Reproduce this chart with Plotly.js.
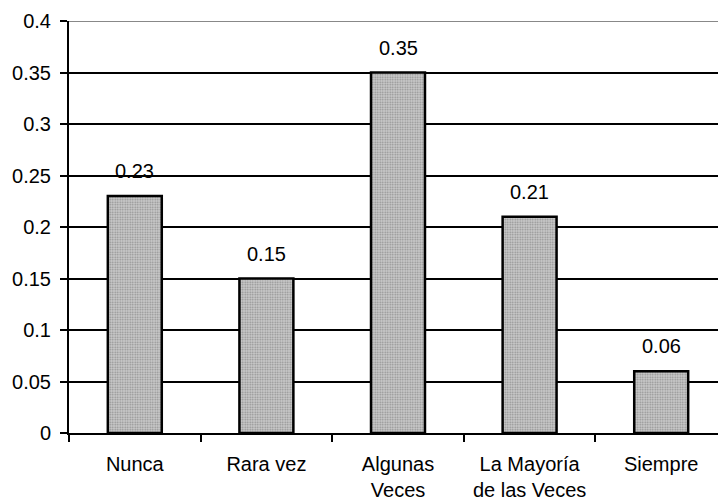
<!DOCTYPE html>
<html>
<head>
<meta charset="utf-8">
<script src="https://cdn.plot.ly/plotly-3.0.1.min.js"></script>
<style>
html,body{margin:0;padding:0;overflow:hidden;background:#fff;}
#chart{width:727px;height:500px;}
</style>
</head>
<body>
<div id="chart"></div>
<script>
const categories = ["Nunca", "Rara vez", "Algunas<br>Veces", "La Mayoría<br>de las Veces", "Siempre"];
const values = [0.23, 0.15, 0.35, 0.21, 0.06];
const valueLabels = ["0.23", "0.15", "0.35", "0.21", "0.06"];
const yTickVals = [0, 0.05, 0.1, 0.15, 0.2, 0.25, 0.3, 0.35, 0.4];
const yTickText = ["0", "0.05", "0.1", "0.15", "0.2", "0.25", "0.3", "0.35", "0.4"];

const font = {family: "Liberation Sans, Arial, sans-serif", size: 20, color: "#000"};

const trace = {
  type: "bar",
  x: categories,
  y: values,
  width: 0.41,
  marker: {
    color: "#b4b4b4",
    line: {color: "#000", width: 2.5},
    pattern: {shape: ".", fgcolor: "#8e8e8e", bgcolor: "#cccccc", size: 2.5, solidity: 0.4}
  },
  hoverinfo: "none"
};

const annotations = categories.map((c, i) => ({
  x: c, y: values[i], text: valueLabels[i], showarrow: false,
  yshift: 25, font: font, xref: "x", yref: "y"
}));

const layout = {
  width: 727, height: 500,
  margin: {l: 69, r: 0, t: 21, b: 67},
  paper_bgcolor: "#fff", plot_bgcolor: "#fff",
  font: font,
  showlegend: false,
  xaxis: {
    type: "category",
    showgrid: false,
    showline: true, linecolor: "#000", linewidth: 2,
    ticks: "outside", tickson: "boundaries", ticklen: 7, tickwidth: 2, tickcolor: "#000",
    ticklabelstandoff: 12,
    tickfont: font, fixedrange: true
  },
  yaxis: {
    range: [0, 0.4],
    tickvals: yTickVals, ticktext: yTickText,
    showgrid: true, gridcolor: "#000", gridwidth: 2,
    showline: true, linecolor: "#000", linewidth: 2,
    ticks: "outside", ticklen: 7, tickwidth: 2, tickcolor: "#000",
    ticklabelstandoff: 5,
    zeroline: false,
    tickfont: font, fixedrange: true
  },
  shapes: [{
    type: "line", xref: "paper", yref: "y", x0: 0, x1: 1, y0: 0.4, y1: 0.4,
    line: {color: "#888", width: 2}, layer: "above"
  }],
  annotations: annotations
};

Plotly.newPlot("chart", [trace], layout, {staticPlot: true, displayModeBar: false});
</script>
</body>
</html>
